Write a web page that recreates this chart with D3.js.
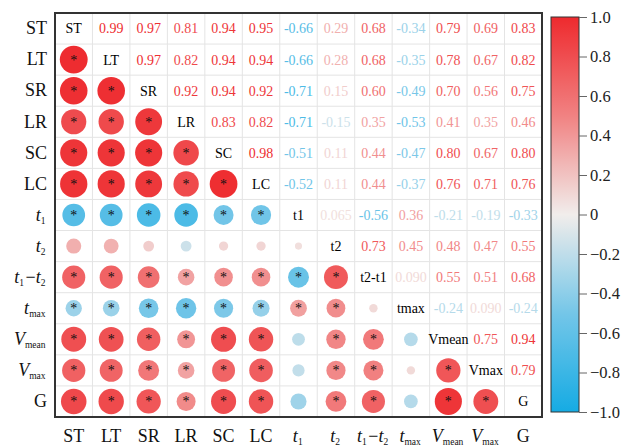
<!DOCTYPE html>
<html>
<head>
<meta charset="utf-8">
<script src="https://cdn.jsdelivr.net/npm/d3@7"></script>
<style>
  html, body { margin: 0; padding: 0; background: #fff; }
  svg text { font-family: "Times New Roman", "Liberation Serif", Times, serif; }
</style>
</head>
<body>
<svg id="chart" width="635" height="447"></svg>
<script>
// Variable codes (matrix order)
const vars = ["ST", "LT", "SR", "LR", "SC", "LC", "t1", "t2", "t1-t2", "tmax", "Vmean", "Vmax", "G"];

// Labels written on the diagonal cells
const diagLabels = ["ST", "LT", "SR", "LR", "SC", "LC", "t1", "t2", "t2-t1", "tmax", "Vmean", "Vmax", "G"];

// Axis labels: [text, italic?, subscript] segments
const axisLabels = [
  [["ST", false, ""]],
  [["LT", false, ""]],
  [["SR", false, ""]],
  [["LR", false, ""]],
  [["SC", false, ""]],
  [["LC", false, ""]],
  [["t", true, "1"]],
  [["t", true, "2"]],
  [["t", true, "1"], ["\u2212", false, ""], ["t", true, "2"]],
  [["t", true, "max"]],
  [["V", true, "mean"]],
  [["V", true, "max"]],
  [["G", false, ""]]
];

// Upper-triangle correlation coefficients, row by row (values right of the diagonal)
const upperRows = [
  [0.99, 0.97, 0.81, 0.94, 0.95, -0.66, 0.29, 0.68, -0.34, 0.79, 0.69, 0.83],
  [0.97, 0.82, 0.94, 0.94, -0.66, 0.28, 0.68, -0.35, 0.78, 0.67, 0.82],
  [0.92, 0.94, 0.92, -0.71, 0.15, 0.60, -0.49, 0.70, 0.56, 0.75],
  [0.83, 0.82, -0.71, -0.15, 0.35, -0.53, 0.41, 0.35, 0.46],
  [0.98, -0.51, 0.11, 0.44, -0.47, 0.80, 0.67, 0.80],
  [-0.52, 0.11, 0.44, -0.37, 0.76, 0.71, 0.76],
  [0.065, -0.56, 0.36, -0.21, -0.19, -0.33],
  [0.73, 0.45, 0.48, 0.47, 0.55],
  [0.090, 0.55, 0.51, 0.68],
  [-0.24, 0.090, -0.24],
  [0.75, 0.94],
  [0.79],
  []
];

// Significance flags for the lower triangle, row by row (1 = marked with *)
const sigRows = [
  [],
  [1],
  [1, 1],
  [1, 1, 1],
  [1, 1, 1, 1],
  [1, 1, 1, 1, 1],
  [1, 1, 1, 1, 1, 1],
  [0, 0, 0, 0, 0, 0, 0],
  [1, 1, 1, 1, 1, 1, 1, 1],
  [1, 1, 1, 1, 1, 1, 1, 1, 0],
  [1, 1, 1, 1, 1, 1, 0, 1, 1, 0],
  [1, 1, 1, 1, 1, 1, 0, 1, 1, 0, 1],
  [1, 1, 1, 1, 1, 1, 0, 1, 1, 0, 1, 1]
];

// Colour bar ticks
const barTicks = [-1, -0.8, -0.6, -0.4, -0.2, 0, 0.2, 0.4, 0.6, 0.8, 1];

// Diverging palette stops (blue - light - red)
const paletteDomain = [-1, -0.5, 0, 0.5, 1];
const paletteColors = ["#15abe3", "#74c6e8", "#f1edeb", "#f18282", "#ee2a2e"];

const SERIF = "'Times New Roman', 'Liberation Serif', Times, serif";

// Build full symmetric matrix
const n = vars.length;
const r = (i, j) => (i < j ? upperRows[i][j - i - 1] : upperRows[j][i - j - 1]);
const cells = [];
for (let i = 0; i < n; i++) {
  for (let j = 0; j < n; j++) {
    cells.push({ row: i, col: j, value: i === j ? 1 : r(i, j), sig: i > j ? sigRows[i][j] : 0 });
  }
}

const svg = d3.select("#chart");
const plot = { left: 55, right: 542, top: 13, bottom: 417 };

const x = d3.scaleBand().domain(d3.range(n)).range([plot.left, plot.right]);
const y = d3.scaleBand().domain(d3.range(n)).range([plot.top, plot.bottom]);
const color = d3.scaleLinear().domain(paletteDomain).range(paletteColors);
const radius = d3.scaleSqrt().domain([0, 1]).range([0, 14]);

// Grid
const grid = svg.append("g");
grid.selectAll("line.v").data(d3.range(1, n)).join("line")
  .attr("x1", d => x(d)).attr("x2", d => x(d))
  .attr("y1", plot.top).attr("y2", plot.bottom)
  .attr("stroke", "#e4e4e4").attr("stroke-width", 1);
grid.selectAll("line.h").data(d3.range(1, n)).join("line")
  .attr("y1", d => y(d)).attr("y2", d => y(d))
  .attr("x1", plot.left).attr("x2", plot.right)
  .attr("stroke", "#e4e4e4").attr("stroke-width", 1);

const cx = d => x(d.col) + x.bandwidth() / 2;
const cy = d => y(d.row) + y.bandwidth() / 2;

// Lower triangle: circles
const lower = cells.filter(d => d.row > d.col);
svg.append("g").selectAll("circle").data(lower).join("circle")
  .attr("cx", cx).attr("cy", cy)
  .attr("r", d => radius(Math.abs(d.value)))
  .attr("fill", d => color(d.value));

svg.append("g").selectAll("text").data(lower.filter(d => d.sig)).join("text")
  .attr("x", cx).attr("y", d => cy(d) + 5)
  .attr("text-anchor", "middle")
  .attr("font-size", 14)
  .attr("fill", "#111")
  .text("*");

// Upper triangle: coefficients
const fmt = v => {
  const a = Math.abs(v);
  const s = (a < 0.1 ? d3.format(".3f")(a) : d3.format(".2f")(a));
  return (v < 0 ? "-" : "") + s;
};
svg.append("g").selectAll("text").data(cells.filter(d => d.row < d.col)).join("text")
  .attr("x", cx).attr("y", cy)
  .attr("dy", "0.35em")
  .attr("text-anchor", "middle")
  .attr("font-size", 14)
  .attr("fill", d => color(d.value))
  .text(d => fmt(d.value));

// Diagonal labels
svg.append("g").selectAll("text").data(cells.filter(d => d.row === d.col)).join("text")
  .attr("x", cx).attr("y", cy)
  .attr("dy", "0.35em")
  .attr("text-anchor", "middle")
  .attr("font-size", 14)
  .attr("fill", "#000")
  .text(d => diagLabels[d.row]);

// Frame
svg.append("rect")
  .attr("x", plot.left).attr("y", plot.top)
  .attr("width", plot.right - plot.left).attr("height", plot.bottom - plot.top)
  .attr("fill", "none").attr("stroke", "#333").attr("stroke-width", 2);

// Axis label renderer with italic base and subscripts
function writeLabel(textSel, i) {
  textSel.text(null);
  axisLabels[i].forEach(([base, italic, sub]) => {
    textSel.append("tspan")
      .attr("font-style", italic ? "italic" : "normal")
      .text(base);
    if (sub) {
      textSel.append("tspan")
        .attr("font-size", 9.5)
        .attr("dy", 3)
        .text(sub);
      textSel.append("tspan").attr("dy", -3).text("\u200a");
    }
  });
}

const yAxis = svg.append("g")
  .attr("transform", `translate(${plot.left},0)`)
  .call(d3.axisLeft(y).tickSize(0).tickPadding(8));
yAxis.attr("font-family", SERIF);
yAxis.select(".domain").remove();
yAxis.selectAll(".tick text")
  .attr("font-size", 18)
  .attr("fill", "#111")
  .attr("dy", "0.32em")
  .each(function (d) { writeLabel(d3.select(this), d); });

const xAxis = svg.append("g")
  .attr("transform", `translate(0,${plot.bottom})`)
  .call(d3.axisBottom(x).tickSize(0).tickPadding(12));
xAxis.attr("font-family", SERIF);
xAxis.select(".domain").remove();
xAxis.selectAll(".tick text")
  .attr("font-size", 18)
  .attr("fill", "#111")
  .each(function (d) { writeLabel(d3.select(this), d); });

// Colour bar
const bar = { x: 551, w: 28, top: 17, bottom: 412 };
const barY = d3.scaleLinear().domain([-1, 1]).range([bar.bottom, bar.top]);
const defs = svg.append("defs");
const grad = defs.append("linearGradient")
  .attr("id", "cbar").attr("x1", 0).attr("y1", 1).attr("x2", 0).attr("y2", 0);
d3.range(-1, 1.0001, 0.05).forEach(v => {
  grad.append("stop")
    .attr("offset", (v + 1) / 2)
    .attr("stop-color", color(v));
});
svg.append("rect")
  .attr("x", bar.x).attr("y", bar.top)
  .attr("width", bar.w).attr("height", bar.bottom - bar.top)
  .attr("fill", "url(#cbar)")
  .attr("stroke", "#333").attr("stroke-width", 1);

const barAxis = svg.append("g")
  .attr("transform", `translate(${bar.x + bar.w},0)`)
  .call(d3.axisRight(barY).tickValues(barTicks).tickSize(8).tickPadding(3)
    .tickFormat(v => {
      if (Math.abs(v) < 1e-9) return "0";
      return d3.format(".1f")(v).replace("-", "\u2212");
    }));
barAxis.attr("font-family", SERIF);
barAxis.select(".domain").remove();
barAxis.selectAll(".tick line").attr("stroke", "#666");
barAxis.selectAll(".tick text")
  .attr("font-size", 16.5)
  .attr("fill", "#222");
</script>
</body>
</html>
